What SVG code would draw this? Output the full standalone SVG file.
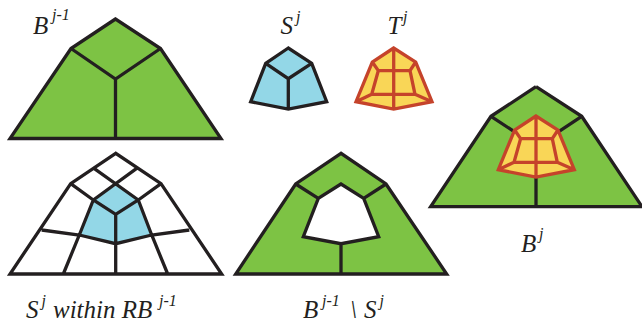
<svg xmlns="http://www.w3.org/2000/svg" width="642" height="325" viewBox="0 0 642 325">
<style>
.k{fill:none;stroke:#231f20;stroke-width:3.300;stroke-linejoin:miter;stroke-linecap:butt}
.r{fill:none;stroke:#c5432b;stroke-width:3.300;stroke-linejoin:miter}
.g{fill:#7dc344}.b{fill:#93d7e7}.y{fill:#f9d657}.w{fill:#fff}
text{font-family:"Liberation Serif","Times New Roman",serif;font-style:italic;fill:#231f20;font-size:25px}
.s{font-size:16px}
</style>
<defs>
<g id="tile">
<path class="y" d="M393.7 48L372.3 62L356 101.7L393.7 109L432 101.7L415.7 62Z"/>
<path class="r" d="M393.7 48L372.3 62L356 101.7L393.7 109L432 101.7L415.7 62ZM393.7 48V109M372.3 62L378.3 70.7H410L415.7 62M378.3 70.7L371.7 94.3H415L410 70.7M356 101.7L371.7 94.3M432 101.7L415 94.3"/>
</g>
</defs>
<g id="node-b-prev">
<path class="g" d="M115.5 19L71 48.5L10 138.5H221L160.5 48.5Z"/>
<path class="k" d="M115.5 19L71 48.5L10 138.5H221L160.5 48.5ZM71 48.5L115.5 79L160.5 48.5M115.5 79V140"/>
<text x="33" y="33.500">B</text><text class="s" x="52" y="20">j-1</text>
</g>
<g id="node-s">
<path class="b" d="M288.3 48L265.7 63.3L250.7 101.7L288.3 109L326.7 101.7L311.7 63.3Z"/>
<path class="k" d="M288.3 48L265.7 63.3L250.7 101.7L288.3 109L326.7 101.7L311.7 63.3ZM265.7 63.3L288.3 78.7L311.7 63.3M288.3 78.7V109"/>
<text x="280.500" y="33.500">S</text><text class="s" x="296" y="22">j</text>
</g>
<g id="node-t">
<use href="#tile"/>
<text x="387.500" y="33.500">T</text><text class="s" x="403" y="22">j</text>
</g>
<g id="node-b">
<path class="g" d="M536 86.700L491 116.300L430.700 206.700H641L581.700 116.300Z"/>
<path class="k" d="M536 86.700L491 116.300L430.700 206.700H642M642 206.700L581.700 116.300L536 86.700M491 116.300L514.300 131.700M581.700 116.300L558.700 131.700M536 176V208"/>
<use href="#tile" x="142.300" y="68"/>
<text x="521" y="251.700">B</text><text class="s" x="539" y="239">j</text>
</g>
<g id="node-s-within">
<path class="w" d="M115.700 153.300L70.700 183.700L10 274H221.700L161 183.700Z"/>
<path class="b" d="M115.700 185.700L93.300 200L79.300 235L115.700 243.700L151.700 235L138.300 200Z"/>
<path class="k" d="M115.700 153.300L70.700 183.700L10 274H221.700L161 183.700ZM94 168.300L138.300 200M136.700 168.300L93.300 200M70.700 183.700L93.300 200L115.700 214.300L138.300 200L161 183.700M115.700 214.300V275.500M93.300 200L79.300 235L63.300 274M138.300 200L151.700 235L167.700 274M41.700 230L79.300 235L115.700 243.700L151.700 235L189.300 230"/>
<text x="26" y="318">S</text><text class="s" x="41.500" y="306">j</text>
<text x="53" y="318">within RB</text><text class="s" x="159" y="306">j-1</text>
</g>
<g id="node-b-minus-s">
<path class="g" fill-rule="evenodd" d="M341 153.300L295.700 184L235.700 274H446.700L386 184ZM341 184L318.300 198.300L303.300 236.700L341 243.700L378.700 236.700L363.700 198.300Z"/>
<path class="k" d="M341 153.300L295.700 184L235.700 274H446.700L386 184ZM341 184L318.300 198.300L303.300 236.700L341 243.700L378.700 236.700L363.700 198.300ZM295.700 184L318.300 198.300M386 184L363.700 198.300M341 243.700V275"/>
<text x="303" y="318">B</text><text class="s" x="322" y="306">j-1</text>
<text x="350" y="318">\</text><text x="364" y="318">S</text><text class="s" x="379.500" y="306">j</text>
</g>
<g id="connectors"></g>
</svg>
